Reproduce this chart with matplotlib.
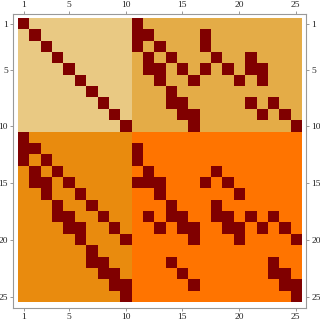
import numpy as np
import matplotlib
matplotlib.use('Agg')
from matplotlib import pyplot as plt
from matplotlib.colors import ListedColormap

n = 25
split = 10  # block boundary after row/column 10

# positions of the dark (value 1) cells, row -> list of columns (1-based)
ones = {
    1: [1, 11],
    2: [2, 11, 12, 17],
    3: [3, 11, 13, 17],
    4: [4, 12, 14, 18, 21],
    5: [5, 12, 13, 15, 17, 19, 21, 22],
    6: [6, 13, 16, 20, 22],
    7: [7, 14],
    8: [8, 14, 15, 21, 23],
    9: [9, 15, 16, 22, 24],
    10: [10, 16, 25],
    11: [1],
    12: [1, 2, 11],
    13: [1, 3, 11],
    14: [2, 4, 12, 18],
    15: [2, 3, 5, 11, 12, 13, 17, 19],
    16: [3, 6, 13, 20],
    17: [4, 7, 14, 18],
    18: [4, 5, 8, 12, 14, 15, 18, 19, 21, 23],
    19: [5, 6, 9, 13, 15, 16, 19, 20, 22, 24],
    20: [6, 10, 16, 20, 25],
    21: [7],
    22: [7, 8, 14, 23],
    23: [8, 9, 15, 23, 24],
    24: [9, 10, 16, 24, 25],
    25: [10, 25],
}

block_colors = ['#e9c983', '#e4ac47', '#e98b0e', '#ff7400', '#800000']
tick_vals = [1, 5, 10, 15, 20, 25]

# block codes: 0 TL, 1 TR, 2 BL, 3 BR, 4 = one
idx = np.arange(1, n + 1)
grid = (idx[:, None] > split) * 2 + (idx[None, :] > split) * 1
grid = grid.astype(float)
for r, cols in ones.items():
    for c in cols:
        grid[r - 1, c - 1] = 4

fig = plt.figure(figsize=(3.2, 3.22), dpi=100)
ax = fig.add_axes([0.0405, 0.0435, 0.917, 0.913])
ax.imshow(grid, cmap=ListedColormap(block_colors), vmin=-0.5, vmax=4.5,
          extent=(0.5, n + 0.5, n + 0.5, 0.5), interpolation='nearest', aspect='auto')
ax.set_xlim(0.05, n + 0.95)
ax.set_ylim(n + 1.0, 0.1)

for s in ax.spines.values():
    s.set_color('#999999')
    s.set_linewidth(0.8)

ax.set_xticks(tick_vals)
ax.set_yticks(tick_vals)
ax.tick_params(axis='both', which='both', direction='out', length=2.5, width=0.6,
               color='#888888', labelsize=6.8, pad=1,
               top=True, bottom=True, left=True, right=True,
               labeltop=True, labelbottom=True, labelleft=True, labelright=True)
for lab in ax.get_xticklabels() + ax.get_yticklabels():
    lab.set_family('Liberation Serif')
    lab.set_color('#222222')

fig.savefig('out.png', dpi=100)
